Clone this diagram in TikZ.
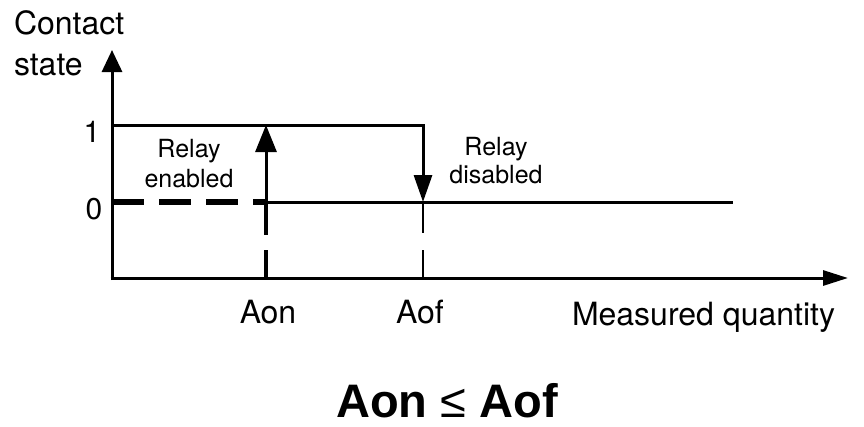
\documentclass[tikz,border=0pt]{standalone}
\usepackage{fontspec}
\setmainfont{TeX Gyre Heros}
\newfontfamily\titlefont{Liberation Sans}
\usetikzlibrary{arrows.meta}
\tikzset{
  lbl/.style={inner sep=0pt, outer sep=0pt, anchor=base},
  axis/.style={line width=3pt},
  bigtip/.style={-{Triangle[length=27pt,width=21pt]}},
}
\begin{document}
\begin{tikzpicture}[x=1pt,y=-1pt]
\useasboundingbox (0,0) rectangle (864,426);
% coordinates
\coordinate (O) at (112,278);
\coordinate (Ytop) at (112,50);
\coordinate (Xend) at (848,278);
\coordinate (Y1) at (112,125);
\coordinate (Y0) at (112,202);
\coordinate (On1) at (266,125);
\coordinate (On0) at (266,202);
\coordinate (OnB) at (266,280);
\coordinate (Of1) at (423,125);
\coordinate (Of0) at (423,202);
\coordinate (OfB) at (423,280);
\coordinate (Zend) at (733,202);
% axes
\draw[axis, -{Triangle[length=22pt,width=20pt]}] (112,280) -- (Ytop);
\draw[axis, -{Triangle[length=25pt,width=15pt]}] (110.5,278) -- (Xend);
% level 1 and falling edge
\draw[axis, line join=miter, -{Triangle[length=27pt,width=18pt]}] (Y1) -- (Of1) -- (Of0);
% rising edge
\draw[axis, bigtip] (On0) -- (On1);
% level 0 solid
\draw[axis] (On0) -- (Zend);
% level 0 dashed (before Aon)
\draw[line width=5.5pt, dash pattern=on 32pt off 15pt] (Y0) -- (On0);
% Aon thick dashed drop
\draw[line width=4.5pt, dash pattern=on 33pt off 15pt] (On0) -- (OnB);
% Aof thin dashed drop
\draw[line width=2pt, dash pattern=on 31pt off 17pt] (Of0) -- (OfB);
% texts
\node[lbl, anchor=base west] (contact) at (14,34) {\fontsize{32}{38}\selectfont Contact};
\node[lbl, anchor=base west] (state) at (14,75) {\fontsize{32}{38}\selectfont state};
\node[lbl] (one) at (92,142) {\fontsize{30}{36}\selectfont 1};
\node[lbl] (zero) at (94,219) {\fontsize{30}{36}\selectfont 0};
\node[lbl] (relay1) at (189,157) {\fontsize{25}{30}\selectfont Relay};
\node[lbl] (enabled) at (189,187) {\fontsize{25}{30}\selectfont enabled};
\node[lbl] (relay2) at (496,155) {\fontsize{25}{30}\selectfont Relay};
\node[lbl] (disabled) at (496,183) {\fontsize{25}{30}\selectfont disabled};
\node[lbl] (aon) at (268,323) {\fontsize{32}{38}\selectfont Aon};
\node[lbl] (aof) at (420,323) {\fontsize{32}{38}\selectfont Aof};
\node[lbl, anchor=base west] (mq) at (572,325) {\fontsize{32}{38}\selectfont Measured quantity};
\node[lbl, text depth=0pt] (title) at (447,417) {\titlefont\fontsize{47}{56}\selectfont\textbf{Aon} ≤ \textbf{Aof}};
\end{tikzpicture}
\end{document}
